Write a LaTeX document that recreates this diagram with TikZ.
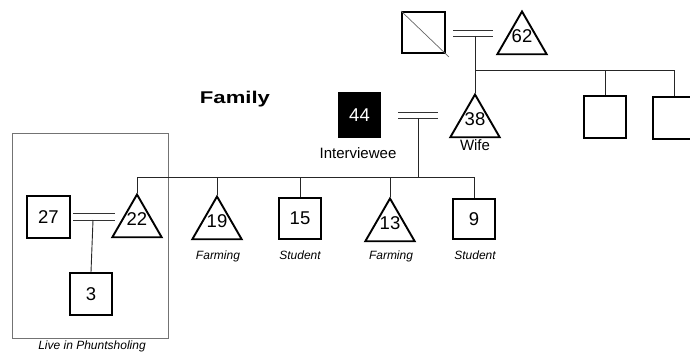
\documentclass[tikz,border=0pt]{standalone}
\usepackage{fontspec}
\setmainfont{Liberation Sans}
\usetikzlibrary{shapes.geometric,calc}
\begin{document}
\begin{tikzpicture}[x=1pt,y=-1pt,
  person/.style={draw,line width=1.9pt,rectangle,minimum width=42pt,minimum height=42pt,
                 inner sep=0pt,font=\fontsize{18.5}{18.5}\selectfont},
  female/.style={draw,line width=1.9pt,regular polygon,regular polygon sides=3,
                 minimum size=57pt,inner sep=0pt},
  num/.style={font=\fontsize{18.5}{18.5}\selectfont,inner sep=0pt},
  link/.style={line width=0.9pt,black!85},
  bar/.style={line width=0.9pt,black!80},
  role/.style={font=\itshape\fontsize{12}{12}\selectfont,anchor=base},
  caption/.style={font=\fontsize{15}{15}\selectfont,anchor=base}]
\useasboundingbox (0,0) rectangle (690,353);

% household living elsewhere
\draw[black!55,line width=0.8pt] (12,133) rectangle (168,338);

% grandparents' generation
\node[person,minimum width=43pt,minimum height=41pt] (gf) at (423.5,32.5) {};
\draw[black!60,line width=0.7pt] (gf.north west) -- ($(gf.south east)+(3,3)$);
\node[female,label={[num,yshift=4pt]center:62}] (gm) at (522,40) {};

% parents' generation
\node[female,label={[num,yshift=4pt]center:38}] (wife) at (475,123) {};
\node[person,fill=black,text=white,minimum width=41pt,minimum height=44pt] (ego) at (359.5,115) {44};
\node[person] (u1) at (605,117) {};
\node[person] (u2) at (674,118) {};

% children
\node[female,label={[num,yshift=4pt]center:22}] (d22) at (137,223) {};
\node[female,label={[num,yshift=4pt]center:19}] (d19) at (217,225) {};
\node[person,minimum height=41pt] (s15) at (300,218.5) {15};
\node[female,label={[num,yshift=4pt]center:13}] (d13) at (390,227) {};
\node[person,minimum height=40pt] (s9) at (474,219) {9};
\node[person,minimum width=43pt] (s27) at (48.5,217) {27};
\node[person] (g3) at (91,294) {3};

% marriage bars
\draw[bar] (453,30) -- (493,30);
\draw[bar] (453,36) -- (493,36);
\draw[bar] (398,112) -- (438,112);
\draw[bar] (398,118) -- (438,118);
\draw[bar] (73,213) -- (115,213);
\draw[bar] (73,220) -- (115,220);

% descent lines
\coordinate (m1) at (475,36);
\coordinate (sibA) at (475,70);
\draw[link] (m1) -- (wife.corner 1);
\draw[link] (sibA) -| (u1.north);
\draw[link] (sibA) -| (u2.north);

\coordinate (m2) at (418,118);
\coordinate (sibB) at (418,177);
\draw[link] (m2) -- (sibB);
\draw[link] (sibB) -| (d22.corner 1);
\draw[link] (sibB) -| (d19.corner 1);
\draw[link] (sibB) -| (s15.north);
\draw[link] (sibB) -| (d13.corner 1);
\draw[link] (sibB) -| (s9.north);

\coordinate (m3) at (93,220);
\draw[link] (m3) -- (g3.north);

% texts
\node[font=\bfseries\fontsize{17}{17}\selectfont,xscale=1.3,anchor=base] (title) at (235,103) {Family};
\node[caption] (egolbl) at (358,158) {Interviewee};
\node[caption] (wifelbl) at (475,150) {Wife};
\node[role] (o19) at (218,259) {Farming};
\node[role] (o15) at (300,259) {Student};
\node[role] (o13) at (391,259) {Farming};
\node[role] (o9) at (475,259) {Student};
\node[font=\itshape\fontsize{12}{12}\selectfont,anchor=base] (place) at (92,349) {Live in Phuntsholing};
\end{tikzpicture}
\end{document}
